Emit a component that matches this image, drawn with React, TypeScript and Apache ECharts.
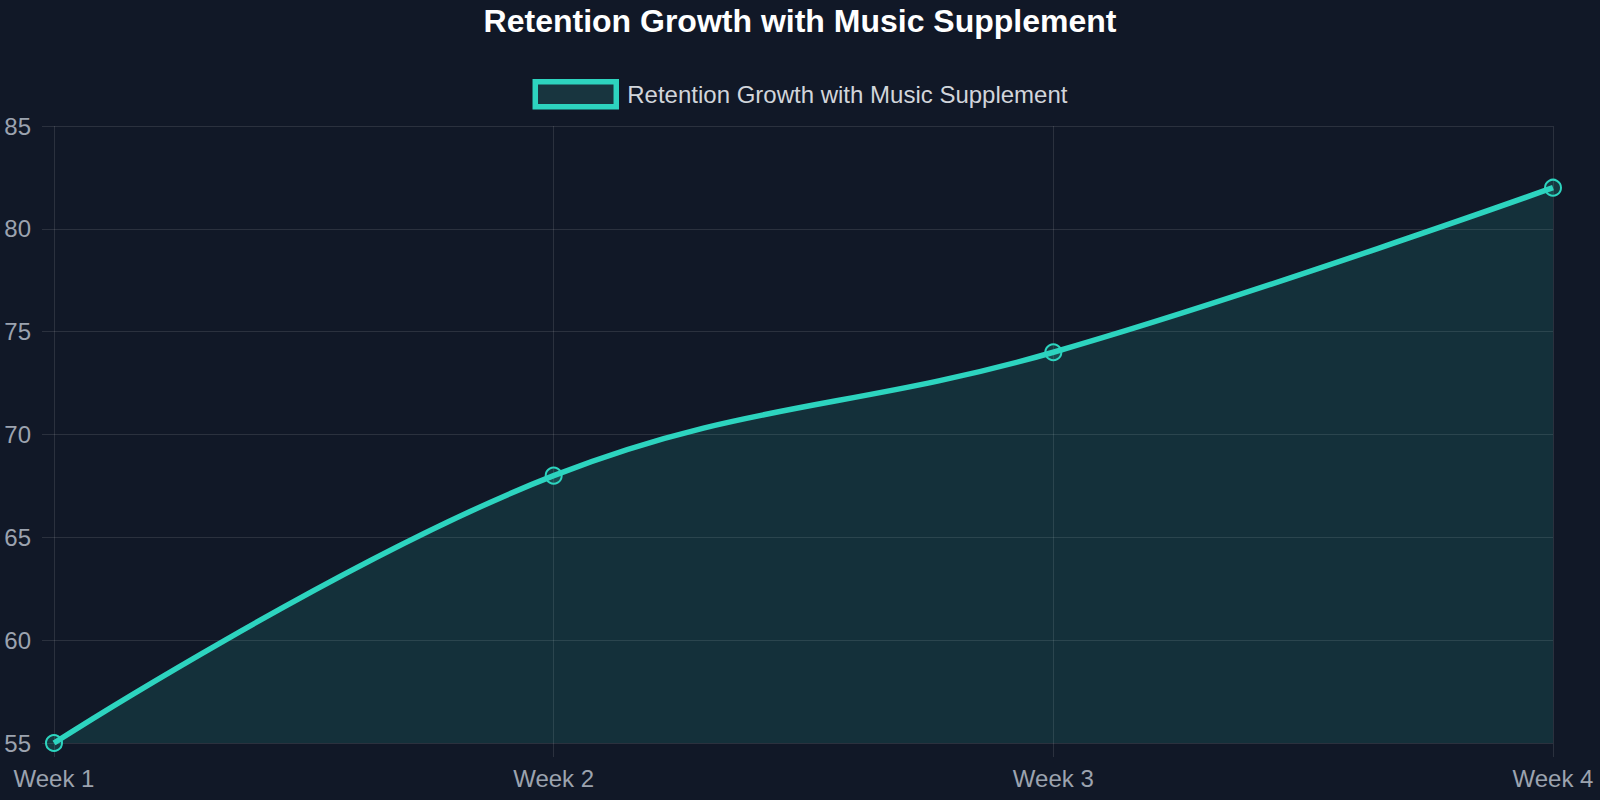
import React, { useEffect, useRef } from "react";
import * as echarts from "echarts";

const title = "Retention Growth with Music Supplement";
const seriesName = "Retention Growth with Music Supplement";
const categories = ["Week 1", "Week 2", "Week 3", "Week 4"];
const retention = [55, 68, 74, 82];
const yMin = 55;
const yMax = 85;
const yStep = 5;

const BG = "#111827";
const TEAL = "#2dd4bf";
const AREA = "rgba(45,212,191,0.18)";
const GRID = "rgba(255,255,255,0.11)";
const FONT = "Liberation Sans, Arial, sans-serif";

export default function App() {
  const ref = useRef<HTMLDivElement>(null);
  useEffect(() => {
    if (!ref.current) return;
    const chart = echarts.init(ref.current, undefined, { renderer: "svg" });
    chart.setOption({
      animation: false,
      backgroundColor: BG,
      textStyle: { fontFamily: FONT },
      title: {
        text: title,
        left: "center",
        top: 0,
        textStyle: { color: "#ffffff", fontSize: 32, fontWeight: "bold", fontFamily: FONT },
      },
      legend: {
        top: 74,
        left: "center",
        itemWidth: 81,
        itemHeight: 25,
        itemGap: 10,
        textStyle: { color: "#d1d5db", fontSize: 24, fontFamily: FONT, padding: [0, 0, 0, 6] },
        data: [
          {
            name: seriesName,
            icon: "rect",
            itemStyle: { color: "#18353f", borderColor: TEAL, borderWidth: 5.5 },
          },
        ],
      },
      grid: { left: 54, right: 47, top: 126, bottom: 57, containLabel: false },
      xAxis: {
        type: "category",
        data: categories,
        boundaryGap: false,
        axisLine: { show: false },
        axisTick: { show: true, length: 14, lineStyle: { color: GRID, width: 1 } },
        axisLabel: { color: "#9ca3af", fontSize: 24, margin: 23, fontFamily: FONT },
        splitLine: { show: true, lineStyle: { color: GRID, width: 1 } },
      },
      yAxis: {
        type: "value",
        min: yMin,
        max: yMax,
        interval: yStep,
        axisLine: { show: false },
        axisTick: { show: true, length: 12, lineStyle: { color: GRID, width: 1 } },
        axisLabel: { color: "#9ca3af", fontSize: 24, margin: 23, fontFamily: FONT },
        splitLine: { show: true, lineStyle: { color: GRID, width: 1 } },
      },
      series: [
        {
          name: seriesName,
          type: "line",
          data: retention,
          smooth: 0.4,
          symbol: "circle",
          symbolSize: 16,
          showAllSymbol: true,
          lineStyle: { color: TEAL, width: 5.5 },
          itemStyle: { color: AREA, borderColor: TEAL, borderWidth: 2 },
          areaStyle: { color: AREA, origin: "start" },
          z: 3,
        },
      ],
    });
    return () => chart.dispose();
  }, []);
  return (
    <div
      ref={ref}
      style={{ position: "fixed", left: 0, top: 0, width: 1600, height: 800 }}
    />
  );
}
